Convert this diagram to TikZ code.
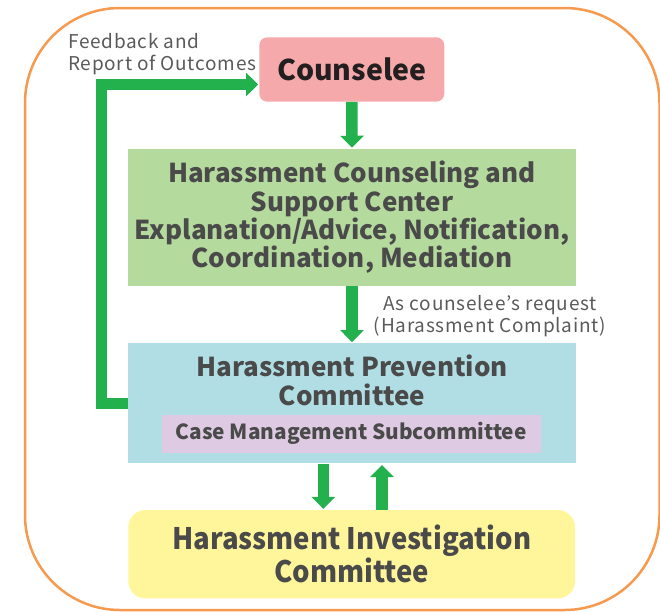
\documentclass[tikz,border=0pt]{standalone}
\usepackage{fontspec}
\usetikzlibrary{arrows.meta,calc}
\newfontfamily\jp{Noto Sans CJK JP}
\newfontfamily\jpc[FakeStretch=0.93]{Noto Sans CJK JP}
\newfontfamily\jplab[LetterSpace=4]{Noto Sans CJK JP}
\definecolor{orangeline}{HTML}{F59A4E}
\definecolor{pinkbox}{HTML}{F6A9AB}
\definecolor{greenbox}{HTML}{B5DA9D}
\definecolor{bluebox}{HTML}{B1DEE5}
\definecolor{purplebox}{HTML}{DECBE3}
\definecolor{yellowbox}{HTML}{FFF69B}
\definecolor{arrowgreen}{HTML}{22B14C}
\definecolor{textgray}{HTML}{4A4A4A}
\definecolor{textdark}{HTML}{231F20}
\definecolor{labelgray}{HTML}{5A5A5A}
\begin{document}
\begin{tikzpicture}[x=1pt,y=-1pt,
  box/.style={draw=none, inner sep=0pt, align=center, text=textgray},
  title/.style={font=\jp\bfseries\fontsize{26}{28.3}\selectfont},
  lab/.style={font=\jplab\fontsize{19}{22}\selectfont, text=labelgray, inner sep=0pt},
  bigarrow/.style={draw=arrowgreen, line width=11.5pt, -{Triangle[length=12pt,width=23pt]}},
  fbline/.style={draw=arrowgreen, line width=11.5pt, line join=miter, -{Triangle[length=12pt,width=23pt]}}
]
\useasboundingbox (0,0) rectangle (660,611);
\draw[orangeline, line width=2.5pt, rounded corners=95pt] (25,8) rectangle (659.5,610);

\node[box, fill=pinkbox, rounded corners=8pt, minimum width=185pt, minimum height=64.4pt,
  text=textdark, font=\jp\bfseries\fontsize{28.5}{32}\selectfont] (cns) at (351.8,69.5) {Counselee};

\node[box, fill=greenbox, minimum width=447.4pt, minimum height=136.7pt, title] (center) at (352,217.3)
  {Harassment Counseling and\\Support Center\\Explanation/Advice, Notification,\\Coordination, Mediation};

\node[box, fill=bluebox, minimum width=448pt, minimum height=120pt] (prev) at (352,403.3) {};
\node[box, title, anchor=base] (prevtext) at (352,405) {Harassment Prevention\\Committee};
\node[box, fill=purplebox, minimum width=379pt, minimum height=37.7pt,
  font=\jp\bfseries\fontsize{20.8}{24}\selectfont] (sub) at (351.2,433.8) {Case Management Subcommittee};

\node[box, fill=yellowbox, rounded corners=17pt, minimum width=446.7pt, minimum height=88.3pt,
  font=\jpc\bfseries\fontsize{29.6}{28.5}\selectfont] (inv) at (351.7,554.2)
  {Harassment Investigation\\Committee};

\node[lab, align=left, anchor=base west] (fb) at (68,70) {Feedback and\\Report of Outcomes};
\node[lab, align=center, anchor=base] (req) at (490,332) {As counselee’s request\\(Harassment Complaint)};

\coordinate (fbc) at (101.7,403.3);
\draw[bigarrow, shorten >=1pt] (cns.south) -- (center.north);
\draw[bigarrow, shorten >=1pt] (center.south) -- (prev.north);
\draw[bigarrow, shorten >=1pt] ([xshift=-28.7pt]prev.south) -- ([xshift=-28.4pt]inv.north);
\draw[bigarrow, shorten >=1.5pt] ([xshift=30.3pt]inv.north) -- ([xshift=30pt]prev.south);
\draw[fbline, shorten >=1pt] (prev.west) -- (fbc) |- ([yshift=-15pt]cns.west);
\end{tikzpicture}
\end{document}
